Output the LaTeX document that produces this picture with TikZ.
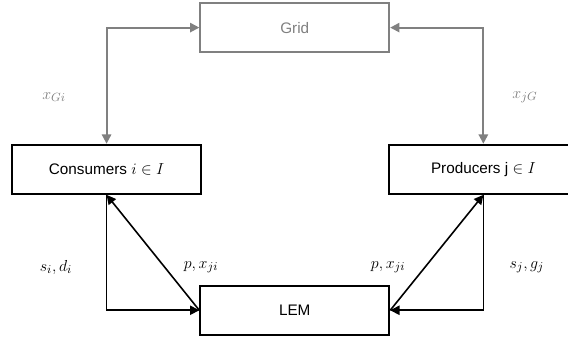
\documentclass[tikz,border=0pt]{standalone}
\usepackage{fontspec}
\setmainfont{Liberation Sans}
\usetikzlibrary{arrows.meta}
\definecolor{flowgray}{RGB}{128,128,128}
\begin{document}
\begin{tikzpicture}[>={Triangle[length=7pt,width=7pt]},font=\fontsize{11.5}{14}\selectfont]
\useasboundingbox (0,0) rectangle (15.03,9.0);
\clip (0,0) rectangle (15.03,9.0);
\node[draw, flowgray, line width=1.4pt, minimum width=5cm, minimum height=1.3cm] (1) at (7.8,8.27) {Grid};
\node[draw, line width=1.5pt, minimum width=5cm, minimum height=1.3cm] (2) at (2.82,4.52) {Consumers $i \in I$};
\node[draw, line width=1.5pt, minimum width=5cm, minimum height=1.3cm] (3) at (12.79,4.52) {Producers j $\in I$};
\node[draw, line width=1.5pt, minimum width=5cm, minimum height=1.3cm] (4) at (7.8,0.79) {LEM};
\node[flowgray, font=\fontsize{13}{15}\selectfont] (5) at (1.43,6.43) {$x_{Gi}$};
\node[flowgray, font=\fontsize{13}{15}\selectfont] (6) at (13.89,6.43) {$x_{jG}$};
\node[font=\fontsize{13}{15}\selectfont] (7) at (1.48,1.93) {$s_i, d_i$};
\node[font=\fontsize{13}{15}\selectfont] (8) at (5.32,1.93) {$p, x_{ji}$};
\node[font=\fontsize{13}{15}\selectfont] (9) at (10.27,1.93) {$p, x_{ji}$};
\node[font=\fontsize{13}{15}\selectfont] (10) at (13.94,1.93) {$s_j, g_j$};
\path[draw,flowgray,line width=1.4pt,<->] (1.west) -| (2.north);
\path[draw,flowgray,line width=1.4pt,<->] (1.east) -| (3.north);
\path[draw,line width=1.2pt,->] (2.south) |- (4.west);
\path[draw,line width=1.2pt,->] (3.south) |- (4.east);
\path[draw,line width=1.2pt,->] (4.west) -- (2.south);
\path[draw,line width=1.2pt,->] (4.east) -- (3.south);
\end{tikzpicture}
\end{document}
